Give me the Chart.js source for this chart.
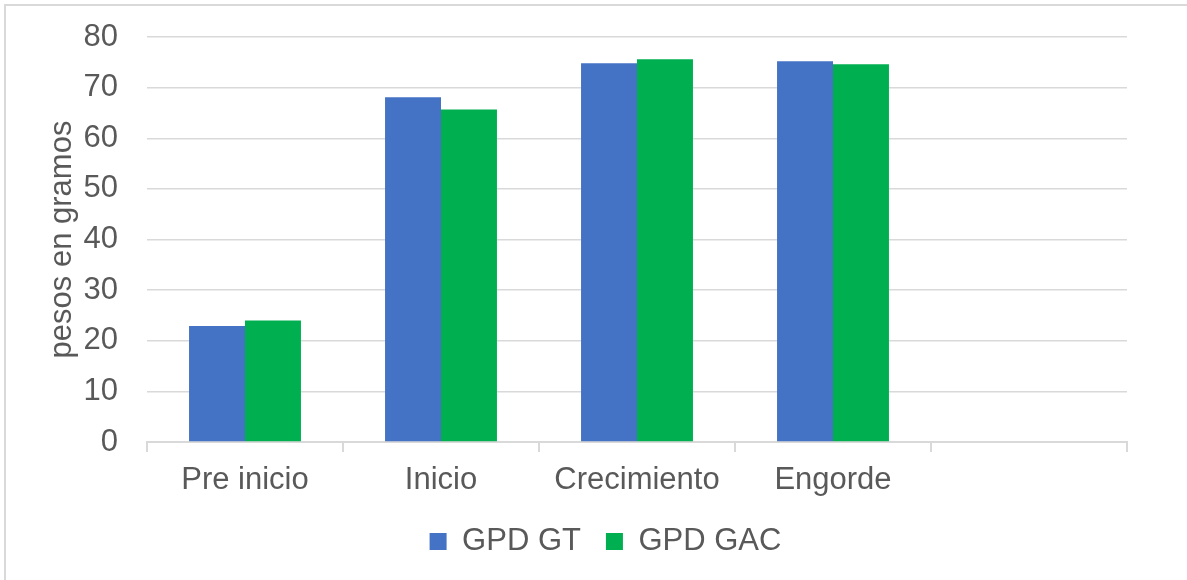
<!DOCTYPE html>
<html>
<head>
<meta charset="utf-8">
<script src="https://cdn.jsdelivr.net/npm/chart.js@4"></script>
<style>
  body { margin: 0; background: #fff; }
  canvas { display: block; }
</style>
</head>
<body>
<canvas id="grafico" width="1187" height="580"></canvas>
<script>
// datos
let etapas = ['Pre inicio', 'Inicio', 'Crecimiento', 'Engorde', ''];
let gpd_gt = [22.9, 68.1, 74.8, 75.2, null];
let gpd_gac = [24.0, 65.7, 75.6, 74.6, null];
let ticks_y = [0, 10, 20, 30, 40, 50, 60, 70, 80];

let gris = '#595959';
let linea = '#d9d9d9';
let fuente = 'Liberation Sans, Arial, sans-serif';

// marco exterior y fondo blanco
const marco = {
    id: 'marco',
    beforeDraw(chart) {
        let ctx = chart.ctx;
        ctx.save();
        ctx.fillStyle = '#fff';
        ctx.fillRect(0, 0, chart.width, chart.height);
        ctx.strokeStyle = linea;
        ctx.lineWidth = 2;
        ctx.strokeRect(5, 5, chart.width + 20, chart.height + 20);
        ctx.restore();
    }
};

// la leyenda va centrada en todo el ancho, un poco mas abajo
const leyenda = {
    id: 'leyenda',
    afterLayout(chart) {
        let lg = chart.legend;
        let h = lg.bottom - lg.top;
        lg.left = 12;
        lg.right = chart.width + 12;
        lg.top = 501;
        lg.bottom = lg.top + h;
    }
};

let ctx = document.getElementById('grafico').getContext('2d');
window.chart_gpd = new Chart(ctx, {
    type: 'bar',
    data: {
        labels: etapas,
        datasets: [{
            label: 'GPD GT',
            backgroundColor: '#4472C4',
            data: gpd_gt
        }, {
            label: 'GPD GAC',
            backgroundColor: '#00B050',
            data: gpd_gac
        }]
    },
    plugins: [marco, leyenda],
    options: {
        responsive: false,
        animation: false,
        devicePixelRatio: 1,
        layout: { padding: { top: 37, right: 60, bottom: 12, left: 0 } },
        datasets: { bar: { categoryPercentage: 0.571, barPercentage: 1.0 } },
        plugins: {
            legend: {
                position: 'bottom',
                labels: {
                    boxWidth: 17,
                    boxHeight: 17,
                    padding: 25,
                    color: gris,
                    font: { family: fuente, size: 31 }
                }
            },
            tooltip: { enabled: false }
        },
        scales: {
            x: {
                afterFit(scale) { scale.height = 60; },
                grid: {
                    offset: true,
                    drawOnChartArea: false,
                    drawTicks: true,
                    tickLength: 10,
                    color: linea,
                    lineWidth: 2
                },
                border: { color: linea, width: 2 },
                ticks: {
                    color: gris,
                    padding: 10,
                    maxRotation: 0,
                    font: { family: fuente, size: 31 }
                }
            },
            y: {
                min: 0,
                max: 80,
                afterFit(scale) { scale.width = 147; },
                afterBuildTicks(scale) { scale.ticks = ticks_y.map(v => ({ value: v })); },
                grid: {
                    color: linea,
                    lineWidth: 1.5,
                    drawTicks: true,
                    tickLength: 29,
                    tickColor: 'rgba(0,0,0,0)'
                },
                border: { display: false },
                ticks: {
                    color: gris,
                    padding: 0,
                    font: { family: fuente, size: 31 }
                },
                title: {
                    display: true,
                    text: 'pesos en gramos',
                    color: gris,
                    padding: { top: 44, bottom: 0 },
                    font: { family: fuente, size: 31 }
                }
            }
        }
    }
});
</script>
</body>
</html>
